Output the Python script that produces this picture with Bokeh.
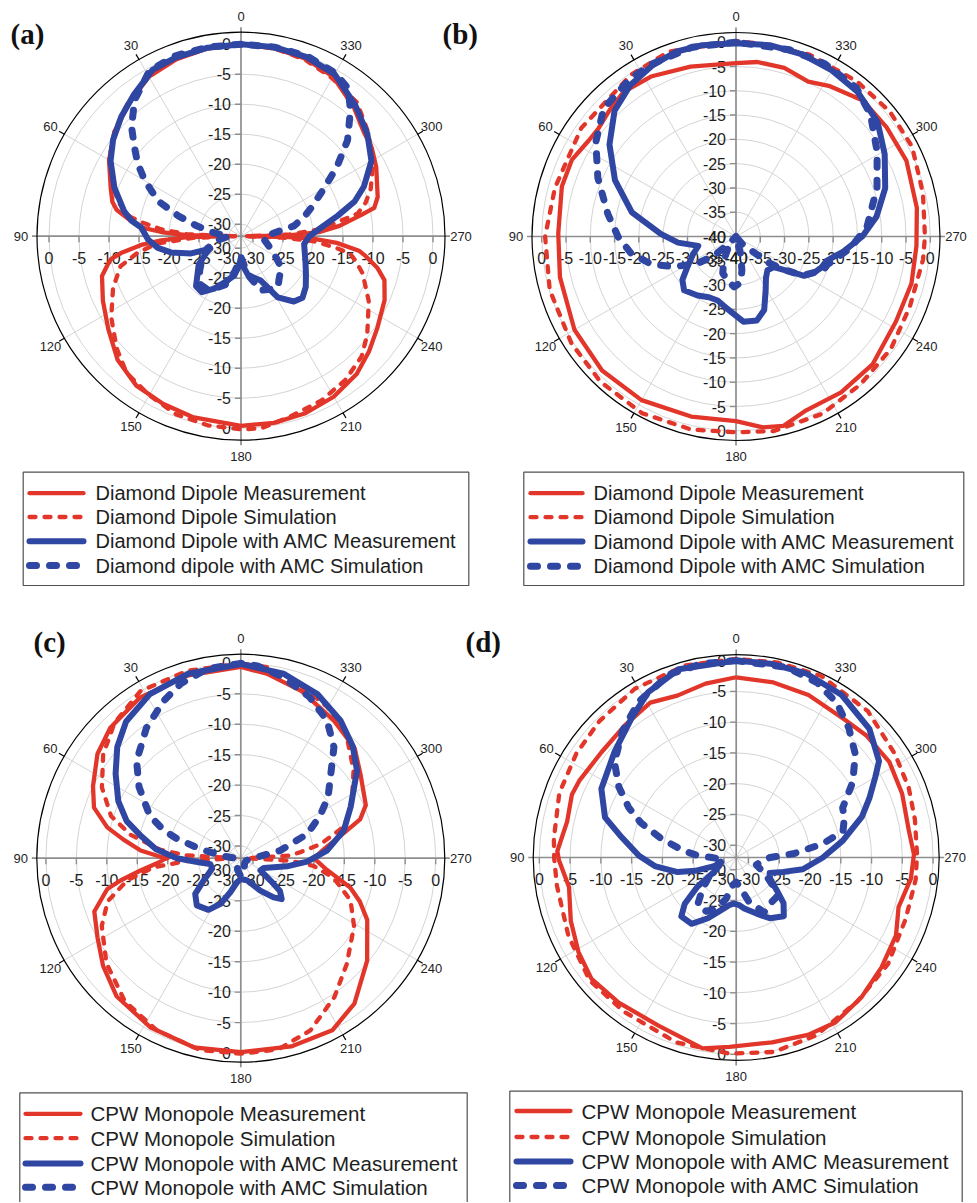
import numpy as np
from bokeh.plotting import figure
from bokeh.models import Range1d
from bokeh.embed import file_html
from bokeh.resources import INLINE
from bokeh.core.properties import value

# ---------------- data (angle in degrees, gain in dB) ----------------
# (a) Diamond dipole
A_MEAS_ANG = [0, 10, 20, 30, 40, 50, 60, 70, 75, 78, 80, 83, 85, 87, 89, 90, 91, 93, 95, 98, 100, 102, 106, 115, 125, 135, 145, 155, 165, 180, 190, 200, 210, 220, 228, 236, 246, 253, 257, 261, 263, 266, 268, 269, 270, 271, 273, 276, 280, 282, 286, 297, 304, 310, 319, 330, 340, 350, 360]
A_MEAS_DB = [0, -0.2, -0.6, -1.3, -3.0, -4.6, -6.6, -8.9, -9.8, -10.8, -12.2, -14.0, -15.3, -18.7, -23.0, -31.0, -23.0, -18.7, -15.3, -11.8, -10.0, -9.3, -7.9, -6.6, -5.0, -2.9, -1.6, -1.2, -0.8, -0.4, -0.4, -0.6, -1.1, -2.0, -3.3, -4.6, -5.8, -7.0, -8.7, -11.0, -12.2, -16.0, -20.0, -24.0, -31.0, -24.0, -19.0, -15.5, -11.7, -9.3, -8.3, -6.7, -5.7, -5.2, -3.4, -1.3, -0.5, -0.2, 0]
A_SIM_ANG = [0, 10, 20, 30, 40, 50, 60, 70, 75, 80, 82, 85, 88, 90, 92, 95, 99, 104, 112, 122, 132, 140, 150, 160, 170, 180, 186, 195, 206, 216, 225, 232, 243, 253, 258, 261, 263, 266, 268, 270, 272, 275, 279, 281, 285, 290, 300, 310, 319, 330, 340, 350, 360]
A_SIM_DB = [0, -0.2, -0.5, -1.2, -2.8, -4.5, -6.6, -9.5, -11.0, -13.2, -15.2, -18.6, -23.0, -31.0, -24.0, -18.0, -14.6, -11.3, -9.0, -6.5, -4.1, -2.3, -1.4, -0.4, 0.0, 0.2, 0.2, -0.8, -1.5, -2.4, -3.6, -5.3, -8.1, -10.8, -12.5, -13.6, -16.0, -19.8, -25.0, -31.0, -24.0, -18.5, -15.0, -12.2, -10.5, -9.0, -6.5, -4.5, -2.5, -1.6, -0.7, -0.2, 0]
A_AMC_MEAS_ANG = [0, 10, 20, 28, 37, 45, 53, 60, 69, 78, 82, 85, 92, 98, 103, 109, 112, 116, 124, 131, 138, 145, 153, 160, 170, 176, 180, 184, 190, 195, 204, 211, 219, 225, 232, 240, 249, 263, 270, 276, 282, 287, 292, 300, 309, 319, 330, 340, 350, 360]
A_AMC_MEAS_DB = [0, -0.1, -0.3, -0.6, -2.4, -3.8, -5.3, -6.9, -9.4, -12.1, -13.6, -15.3, -16.5, -18.0, -20.0, -23.2, -26.5, -25.5, -23.5, -22.4, -20.8, -20.6, -22.2, -23.8, -25.3, -27.0, -28.5, -27.0, -25.5, -25.0, -23.9, -20.1, -18.0, -17.5, -18.3, -19.5, -20.5, -21.4, -20.6, -18.6, -15.5, -12.2, -9.9, -6.9, -4.9, -3.0, -0.8, -0.2, 0, 0]
A_AMC_SIM_ANG = [0, 10, 20, 29, 38, 45, 50, 55, 60, 67, 72, 77, 83, 90, 100, 110, 120, 130, 140, 148, 155, 162, 170, 180, 190, 200, 210, 216, 222, 232, 238, 250, 263, 270, 281, 287, 293, 300, 306, 312, 319, 324, 330, 340, 350, 360]
A_AMC_SIM_DB = [0, 0, 0, -0.5, -3.2, -6.2, -8.8, -11.0, -13.5, -17.0, -21.0, -24.5, -27.5, -30.0, -28.0, -26.0, -24.5, -23.0, -21.5, -21.5, -22.5, -23.5, -26.0, -28.5, -25.5, -22.4, -21.8, -21.5, -22.5, -23.5, -25.0, -27.0, -28.2, -28.0, -23.0, -21.0, -19.0, -16.0, -12.2, -8.1, -4.2, -1.6, -0.6, 0, 0, 0]

# (b) Diamond dipole
B_MEAS_ANG = [0, 15, 28, 38, 45, 52, 57, 65, 74, 89, 103, 120, 135, 150, 166, 180, 188, 194, 202, 214, 227, 242, 255, 267, 279, 294, 306, 317, 328, 335, 344, 353, 360]
B_MEAS_DB = [-4.3, -3.8, -2.7, -2.3, -3.2, -4.0, -3.8, -2.7, -2.7, -3.4, -2.8, -1.6, -1.0, -1.1, -1.8, -2.0, -0.3, 0.2, -1.4, -1.3, -1.5, -2.7, -2.6, -2.8, -2.3, -1.6, -1.7, -1.7, -3.5, -4.8, -3.9, -3.8, -4.3]
B_SIM_ANG = [0, 20, 33, 55, 75, 90, 106, 123, 137, 152, 167, 180, 191, 206, 220, 234, 248, 263, 270, 283, 297, 309, 322, 338, 354, 360]
B_SIM_DB = [0.2, 0.5, -0.3, -1.1, -1.4, -0.7, -0.1, 0.4, 0.9, 1.2, 0.8, 0.3, 0.8, 0.6, -0.2, -0.6, -1.4, -1.2, -1.1, -0.5, 0.7, 0.8, 0.5, 0.4, 0.0, 0.2]
B_AMC_MEAS_ANG = [0, 10, 18, 26, 35, 44, 54, 65, 77, 88, 96, 104, 112, 122, 129, 136, 147, 156, 164, 170, 176, 185, 194, 201, 209, 216, 223, 231, 237, 240, 245, 250, 255, 262, 270, 278, 288, 299, 309, 320, 330, 340, 350, 360]
B_AMC_MEAS_DB = [-0.2, 0, 0, -0.8, -2.0, -4.0, -7.8, -12.5, -18.0, -24.5, -28.0, -32.0, -30.5, -28.2, -25.8, -24.6, -25.5, -26.3, -26.3, -25.5, -24.5, -22.4, -22.2, -23.8, -27.4, -29.5, -30.5, -30.0, -26.7, -23.8, -22.3, -21.3, -20.7, -17.7, -14.0, -10.8, -7.7, -5.0, -2.5, -1.1, -0.5, -0.1, 0, -0.2]
B_AMC_SIM_ANG = [0, 13, 26, 34, 46, 56, 67, 80, 90, 99, 108, 116, 125, 131, 136, 140, 146, 153, 160, 169, 178, 186, 190, 195, 200, 212, 220, 226, 231, 236, 240, 249, 253, 264, 274, 289, 301, 312, 321, 333, 344, 360]
B_AMC_SIM_DB = [0, 0, -0.5, -0.9, -2.1, -5.2, -9.1, -13.2, -15.7, -18.1, -21.6, -25.8, -30.3, -34.0, -38.0, -40.0, -37.0, -34.5, -32.0, -30.8, -29.6, -30.5, -33.0, -36.5, -40.0, -40.0, -38.0, -36.5, -31.5, -27.4, -24.0, -20.7, -20.3, -16.4, -13.0, -9.3, -6.1, -2.7, -0.6, 0, 0, 0]

# (c) CPW monopole
C_MEAS_ANG = [0, 16, 32, 45, 54, 64, 71, 77, 81, 85.6, 89, 90, 91, 93, 97, 100.5, 103, 110, 119, 128, 138, 152, 166, 180, 195, 208, 218, 231, 244, 250, 255, 263, 268, 270, 272, 277, 283, 288, 293, 305, 314, 326, 340, 352, 360]
C_MEAS_DB = [-0.6, -0.75, -0.85, -1.7, -2.9, -5.0, -6.5, -9.5, -12.5, -15.5, -18.8, -20.0, -19.3, -18.5, -15.4, -11.9, -9.5, -6.4, -5.1, -3.3, -1.5, -0.5, 0, -0.15, 0, 0, -1.7, -5.3, -8.9, -11.2, -13.4, -18.0, -19.5, -20.0, -19.5, -18.0, -15.0, -11.4, -9.7, -8.0, -6.0, -4.7, -2.8, -1.4, -0.6]
C_SIM_ANG = [0, 16, 31, 43, 53, 63, 72, 78, 84, 87, 90, 93, 96, 101, 108, 116, 128, 141, 154, 168, 180, 191, 202, 214, 225, 239, 249, 258, 264, 267, 270, 273, 276, 280, 287, 296, 308, 319, 330, 343, 352, 360]
C_SIM_DB = [0, 0, 0, -1.6, -3.7, -6.4, -9.6, -13.5, -18.7, -23.0, -31.0, -23.0, -17.6, -13.0, -9.0, -6.6, -4.0, -1.75, -0.55, 0.2, 0.1, 0, -1.5, -4.5, -7.4, -10.3, -12.7, -16.4, -20.0, -24.0, -31.0, -24.0, -22.0, -18.7, -14.3, -11.7, -8.5, -5.5, -3.4, -1.55, -0.35, 0]
C_AMC_MEAS_ANG = [0, 16, 29, 40, 48, 56, 65, 72, 77, 84, 90, 96, 101, 110, 121, 128, 137, 148, 156, 163, 171, 180, 190, 196, 211, 220, 225, 230, 233, 238, 247, 260, 267, 275, 285, 295, 307, 315, 324, 335, 347, 360]
C_AMC_MEAS_DB = [-0.1, -0.5, -1.2, -2.7, -4.7, -7.2, -9.8, -12.3, -15.0, -18.0, -21.5, -25.3, -26.9, -27.0, -24.9, -22.5, -21.4, -22.0, -23.8, -26.2, -28.0, -28.6, -28.4, -28.2, -25.8, -23.6, -22.5, -23.6, -25.9, -28.2, -27.9, -24.3, -21.1, -17.8, -14.5, -12.1, -8.1, -6.0, -4.1, -2.25, -0.9, -0.1]
C_AMC_SIM_ANG = [0, 10, 19, 26, 36, 47, 55, 65, 70, 73, 77, 82, 90, 110, 140, 165, 180, 195, 220, 250, 275, 281, 290, 298, 305, 313, 320, 328, 337, 347, 355, 360]
C_AMC_SIM_DB = [0, -0.4, -1.7, -3.2, -5.6, -8.6, -11.6, -15.5, -18.5, -21.0, -25.0, -28.5, -31.0, -31.0, -31.0, -30.0, -29.0, -30.0, -31.0, -31.0, -29.0, -25.4, -20.4, -17.3, -14.5, -11.8, -8.2, -5.3, -3.2, -1.45, -0.3, 0]

# (d) CPW monopole
D_MEAS_ANG = [0, 10, 20, 29, 40, 52, 64, 69, 78, 88, 91, 100, 111, 121, 130, 141, 155, 170, 178, 191, 202, 211, 222, 233, 244, 253, 263, 271, 279, 291, 302, 313, 322, 336, 348, 360]
D_MEAS_DB = [-2.7, -3.3, -4.0, -3.2, -3.9, -4.2, -3.6, -3.4, -3.9, -2.9, -3.2, -4.4, -3.2, -2.1, -1.3, -1.65, -1.9, -0.5, -1.2, -1.4, -0.9, -0.7, -1.5, -2.4, -3.1, -4.4, -3.4, -3.1, -3.6, -3.1, -2.65, -3.0, -3.5, -3.1, -2.9, -2.7]
D_SIM_ANG = [0, 15, 31, 45, 57, 70, 84, 90, 99, 115, 130, 144, 162, 178, 191, 204, 220, 235, 250, 263, 271, 282, 292, 303, 318, 335, 348, 360]
D_SIM_DB = [0.3, 0.3, 0, -0.6, -1.0, -1.4, -2.2, -2.4, -2.5, -1.9, -0.9, -1.0, -0.4, -0.1, 0.2, -0.3, -1.4, -1.85, -2.7, -2.6, -2.6, -2.3, -1.75, -1.2, 0, 0.6, 0.4, 0.3]
D_AMC_MEAS_ANG = [0, 17, 28, 37, 49, 63, 73, 80, 89, 96, 104, 108, 111, 116, 123, 127, 132, 137, 146, 155, 164, 172, 177, 183, 189, 200, 209, 219, 226, 231, 238, 245, 253, 260, 270, 279, 288, 294, 300, 304, 314, 327, 339, 350, 360]
D_AMC_MEAS_DB = [0, 0, -1.55, -3.7, -5.8, -7.4, -9.7, -13.1, -16.2, -18.7, -22.2, -25.0, -28.0, -29.0, -27.7, -24.1, -20.75, -18.9, -19.0, -21.1, -23.1, -24.2, -24.5, -24.3, -23.6, -22.3, -20.7, -19.7, -21.3, -23.5, -25.5, -26.0, -24.0, -21.0, -17.9, -14.45, -10.5, -8.3, -5.9, -4.0, -1.9, -0.5, 0, 0, 0]
D_AMC_SIM_ANG = [0, 10, 20, 32, 42, 52, 59, 65, 70, 76, 83, 87, 90, 100, 112, 123, 133, 141, 151, 158, 166, 173, 180, 188, 196, 207, 216, 226, 232, 240, 250, 260, 270, 274, 279, 284, 290, 295, 303, 311, 319, 327, 335, 345, 360]
D_AMC_SIM_DB = [0, 0, -0.3, -2.1, -4.35, -6.9, -9.75, -12.7, -15.5, -19.5, -23.5, -25.7, -28.0, -30.0, -28.5, -27.0, -24.5, -22.0, -22.0, -23.0, -25.0, -27.5, -28.0, -27.0, -24.5, -22.0, -22.7, -22.8, -24.3, -26.5, -28.5, -28.0, -26.5, -22.5, -17.7, -14.1, -13.3, -12.9, -9.4, -6.35, -4.1, -2.0, -0.7, 0, 0]

ANGLE_TICKS = [0, 30, 60, 90, 120, 150, 180, 210, 240, 270, 300, 330]
RADIAL_TICKS_32 = [-30, -25, -20, -15, -10, -5, 0]
RADIAL_TICKS_40 = [-40, -35, -30, -25, -20, -15, -10, -5, 0]

LEGEND_DIPOLE_A = ["Diamond Dipole Measurement", "Diamond Dipole Simulation",
                   "Diamond Dipole with AMC Measurement", "Diamond dipole with AMC Simulation"]
LEGEND_DIPOLE_B = ["Diamond Dipole Measurement", "Diamond Dipole Simulation",
                   "Diamond Dipole with AMC Measurement", "Diamond Dipole with AMC Simulation"]
LEGEND_CPW = ["CPW Monopole Measurement", "CPW Monopole Simulation",
              "CPW Monopole with AMC Measurement", "CPW Monopole with AMC Simulation"]

# ---------------- styling / layout ----------------
RED = "#E2362A"
BLUE = "#2F46A2"
GRID = "#D4D4D4"
AXIS = "#8E8E8E"
TXT = "#1E1E1E"
FONT = "Liberation Sans"
SERIF = "Liberation Serif"

STYLES = [
    dict(line_color=RED, line_width=4.3, line_dash="solid"),
    dict(line_color=RED, line_width=4.3, line_dash="6 9", line_cap="round"),
    dict(line_color=BLUE, line_width=6.0, line_dash="solid"),
    dict(line_color=BLUE, line_width=7.0, line_dash="7 13", line_cap="round"),
]

# panel geometry: centre x, centre y, radial min (centre), radial max (outer ring), outer radius px
PA = (240.5, 235.7, -32.0, 2.0, 204.0)
PB = (735.5, 236.0, -40.0, 2.0, 204.0)
PC = (240.3, 857.7, -32.0, 1.5, 204.0)
PD = (735.7, 857.0, -32.0, 1.0, 203.0)

W, H = 976, 1202
p = figure(width=W, height=H, x_range=Range1d(0, W), y_range=Range1d(H, 0),
           x_axis_type=None, y_axis_type=None, output_backend="svg",
           toolbar_location=None, min_border=0)
p.grid.visible = False
p.outline_line_color = None
p.background_fill_color = "white"
p.border_fill_color = "white"


def rad(panel, db):
    cx, cy, lo, hi, R = panel
    return (np.clip(np.asarray(db, dtype=float), lo, hi) - lo) * R / (hi - lo)


def to_xy(panel, ang, db):
    cx, cy = panel[0], panel[1]
    r = rad(panel, db)
    t = np.radians(np.asarray(ang, dtype=float))
    return cx - r * np.sin(t), cy - r * np.cos(t)


def draw_frame(panel, ticks):
    cx, cy, lo, hi, R = panel
    rs = [float(rad(panel, t)) for t in ticks if rad(panel, t) > 0.5]
    p.circle(x=[cx] * len(rs), y=[cy] * len(rs), radius=rs, fill_color=None,
             line_color=GRID, line_width=1)
    sp = [a for a in ANGLE_TICKS if a % 90 != 0]
    t = np.radians(sp)
    p.segment(x0=[cx] * len(sp), y0=[cy] * len(sp), x1=list(cx - R * np.sin(t)),
              y1=list(cy - R * np.cos(t)), line_color=GRID, line_width=1)
    p.segment(x0=[cx - R - 5, cx], y0=[cy, cy - R - 5], x1=[cx + R + 5, cx],
              y1=[cy, cy + R + 5], line_color=AXIS, line_width=1.7)
    p.circle(x=[cx], y=[cy], radius=[R], fill_color=None, line_color="black", line_width=1.2)
    p.segment(x0=list(cx - R * np.sin(t)), y0=list(cy - R * np.cos(t)),
              x1=list(cx - (R + 6) * np.sin(t)), y1=list(cy - (R + 6) * np.cos(t)),
              line_color="black", line_width=1.2)
    ta = np.radians(ANGLE_TICKS)
    p.text(x=list(cx - (R + 16) * np.sin(ta)), y=list(cy - (R + 16) * np.cos(ta)),
           text=[str(a) for a in ANGLE_TICKS], text_font=value(FONT), text_font_size="13px",
           text_align="center", text_baseline="middle", text_color=TXT)
    rr = [float(rad(panel, v)) for v in ticks]
    labs = [str(v) for v in ticks]
    # vertical radial axis (both directions)
    p.segment(x0=[cx - 6] * len(rr) * 2, y0=[cy - r for r in rr] + [cy + r for r in rr],
              x1=[cx] * len(rr) * 2, y1=[cy - r for r in rr] + [cy + r for r in rr],
              line_color=AXIS, line_width=1.4)
    p.text(x=[cx - 10] * len(rr) * 2, y=[cy - r for r in rr] + [cy + r for r in rr],
           text=labs + labs, text_font=value(FONT), text_font_size="16px",
           text_align="right", text_baseline="middle", text_color=TXT)
    # horizontal radial axis (both directions)
    p.segment(x0=[cx - r for r in rr] + [cx + r for r in rr], y0=[cy] * len(rr) * 2,
              x1=[cx - r for r in rr] + [cx + r for r in rr], y1=[cy + 6] * len(rr) * 2,
              line_color=AXIS, line_width=1.4)
    p.text(x=[cx - r for r in rr] + [cx + r for r in rr], y=[cy + 21.5] * len(rr) * 2,
           text=labs + labs, text_font=value(FONT), text_font_size="16px",
           text_align="center", text_baseline="middle", text_color=TXT)


def draw_curves(panel, series):
    for (ang, db), st in zip(series, STYLES):
        assert len(ang) == len(db)
        x, y = to_xy(panel, ang, db)
        p.line(x=list(x), y=list(y), line_join="round", **st)


def draw_legend(box, rows, x0, x1, tx, labels, fs):
    left, right, top, bottom = box
    p.quad(left=[left], right=[right], top=[top], bottom=[bottom], fill_color=None,
           line_color="#505050", line_width=1.2)
    for yy, st in zip(rows, STYLES):
        s = dict(st)
        s.setdefault("line_cap", "round")
        p.line(x=[x0, x1], y=[yy, yy], **s)
    p.text(x=[tx] * len(rows), y=rows, text=labels, text_font=value(FONT),
           text_font_size=f"{fs}px", text_align="left", text_baseline="middle", text_color=TXT)


for panel, ticks in [(PA, RADIAL_TICKS_32), (PB, RADIAL_TICKS_40), (PC, RADIAL_TICKS_32), (PD, RADIAL_TICKS_32)]:
    draw_frame(panel, ticks)

draw_curves(PA, [(A_MEAS_ANG, A_MEAS_DB), (A_SIM_ANG, A_SIM_DB), (A_AMC_MEAS_ANG, A_AMC_MEAS_DB), (A_AMC_SIM_ANG, A_AMC_SIM_DB)])
draw_curves(PB, [(B_MEAS_ANG, B_MEAS_DB), (B_SIM_ANG, B_SIM_DB), (B_AMC_MEAS_ANG, B_AMC_MEAS_DB), (B_AMC_SIM_ANG, B_AMC_SIM_DB)])
draw_curves(PC, [(C_MEAS_ANG, C_MEAS_DB), (C_SIM_ANG, C_SIM_DB), (C_AMC_MEAS_ANG, C_AMC_MEAS_DB), (C_AMC_SIM_ANG, C_AMC_SIM_DB)])
draw_curves(PD, [(D_MEAS_ANG, D_MEAS_DB), (D_SIM_ANG, D_SIM_DB), (D_AMC_MEAS_ANG, D_AMC_MEAS_DB), (D_AMC_SIM_ANG, D_AMC_SIM_DB)])

# panel letters
p.text(x=[10, 442, 33, 465], y=[33, 33, 641, 641], text=["(a)", "(b)", "(c)", "(d)"],
       text_font=value(SERIF), text_font_style="bold", text_font_size="29px",
       text_align="left", text_baseline="middle", text_color="#111111")

draw_legend((22.7, 468.3, 471.7, 585.0), [492.7, 516.5, 540.8, 565.0], 29, 83, 95, LEGEND_DIPOLE_A, 20)
draw_legend((523.3, 963.3, 471.7, 585.0), [492.7, 516.7, 541.0, 565.7], 530, 582, 593, LEGEND_DIPOLE_B, 20)
draw_legend((19.3, 466.7, 1092.3, 1215.0), [1113.3, 1137.7, 1163.0, 1186.7], 25, 80, 90, LEGEND_CPW, 20.5)
draw_legend((509.3, 961.7, 1090.7, 1215.0), [1110.5, 1136.5, 1161.0, 1185.0], 516, 570, 581, LEGEND_CPW, 20.5)

open("out.html", "w").write(file_html(p, INLINE))
